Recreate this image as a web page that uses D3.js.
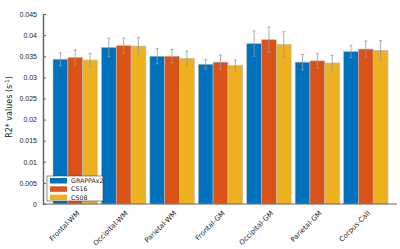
<!DOCTYPE html>
<html>
<head>
<meta charset="utf-8">
<script src="https://cdn.jsdelivr.net/npm/d3@7"></script>
<style>
  body { margin: 0; background: #fff; }
  svg { font-family: "DejaVu Sans", sans-serif; }
</style>
</head>
<body>
<svg id="chart" width="400" height="249"></svg>
<script>
var regions = ["Frontal-WM", "Occipital-WM", "Parietal-WM", "Frontal-GM", "Occipital-GM", "Parietal-GM", "Corpus-Call"];
var series = ["GRAPPAx2", "CS16", "CS08"];
var colors = ["#0072BD", "#D95319", "#EDB120"];

var grappa = [0.0343, 0.0371, 0.0350, 0.0331, 0.0380, 0.0336, 0.0361];
var cs16 = [0.0347, 0.0375, 0.0350, 0.0336, 0.0389, 0.0339, 0.0367];
var cs08 = [0.0341, 0.0374, 0.0345, 0.0328, 0.0378, 0.0334, 0.0364];

var grappaErr = [0.0015, 0.0022, 0.0018, 0.0011, 0.0030, 0.0018, 0.0014];
var cs16Err = [0.0018, 0.0018, 0.0016, 0.0017, 0.0030, 0.0017, 0.0019];
var cs08Err = [0.0016, 0.0020, 0.0017, 0.0013, 0.0030, 0.0018, 0.0023];

var yTicks = [0, 0.005, 0.01, 0.015, 0.02, 0.025, 0.03, 0.035, 0.04, 0.045];

var values = [grappa, cs16, cs08];
var errs = [grappaErr, cs16Err, cs08Err];

var svg = d3.select("#chart");

var mLeft = 43, mRight = 397, mTop = 14, mBottom = 204;

var y = d3.scaleLinear().domain([0, 0.045]).range([mBottom, mTop]);

var x = d3.scaleBand()
    .domain(regions)
    .range([51, 390])
    .padding(0);

var xs = d3.scaleBand()
    .domain(series)
    .range([2, x.bandwidth() - 2])
    .padding(0);

// bars
var rows = [];
regions.forEach(function (r, i) {
    series.forEach(function (s, j) {
        rows.push({region: r, series: s, value: values[j][i], err: errs[j][i], color: colors[j]});
    });
});

svg.append("g")
    .selectAll("rect")
    .data(rows)
    .enter()
    .append("rect")
    .attr("x", d => x(d.region) + xs(d.series))
    .attr("y", d => y(d.value))
    .attr("width", xs.bandwidth())
    .attr("height", d => y(0) - y(d.value))
    .attr("fill", d => d.color)
    .attr("stroke", "#bbbbbb")
    .attr("stroke-width", 0.6);

// error bars
var eb = svg.append("g")
    .attr("stroke", "#999999")
    .attr("stroke-width", 0.8);

rows.forEach(function (d) {
    var cx = x(d.region) + xs(d.series) + xs.bandwidth() / 2;
    eb.append("line")
        .attr("x1", cx).attr("x2", cx)
        .attr("y1", y(d.value + d.err)).attr("y2", y(d.value - d.err));
    [d.value + d.err, d.value - d.err].forEach(function (v) {
        eb.append("line")
            .attr("x1", cx - 1.5).attr("x2", cx + 1.5)
            .attr("y1", y(v)).attr("y2", y(v));
    });
});

// y axis
var yAxis = d3.axisLeft(y)
    .tickValues(yTicks)
    .tickSizeInner(-3)
    .tickSizeOuter(0)
    .tickPadding(6)
    .tickFormat(d => d === 0 ? "0" : String(+d.toFixed(3)));

var gy = svg.append("g")
    .attr("transform", "translate(" + mLeft + ",0)")
    .call(yAxis);
gy.select(".domain").attr("stroke", "#666").attr("stroke-width", 1.5);
gy.selectAll(".tick line").attr("stroke", "#666");
gy.selectAll("text").attr("font-size", 7).attr("fill", "#222");

// x axis line
svg.append("line")
    .attr("x1", mLeft).attr("x2", mRight)
    .attr("y1", mBottom).attr("y2", mBottom)
    .attr("stroke", "#666").attr("stroke-width", 1);

// x labels, rotated 45 degrees
svg.append("g")
    .selectAll("g")
    .data(regions)
    .enter()
    .append("g")
    .attr("transform", d => "translate(" + (x(d) + x.bandwidth() / 2 + 3) + "," + (mBottom + 8) + ") rotate(-45)")
    .append("text")
    .attr("text-anchor", "end")
    .attr("dy", "0.35em")
    .attr("font-size", 7)
    .attr("fill", "#222")
    .text(d => d);

// y label
svg.append("text")
    .attr("transform", "translate(12,107) rotate(-90)")
    .attr("text-anchor", "middle")
    .attr("font-size", 8)
    .attr("fill", "#222")
    .html("R2* values (s<tspan dy='-3' font-size='5.5'>-1</tspan><tspan dy='3'>)</tspan>");

// legend
var lg = svg.append("g").attr("transform", "translate(47,176)");
lg.append("rect")
    .attr("width", 56).attr("height", 25)
    .attr("fill", "#fff").attr("stroke", "#444").attr("stroke-width", 0.6);
series.forEach(function (s, j) {
    lg.append("rect")
        .attr("x", 3).attr("y", 2 + j * 8.3)
        .attr("width", 17).attr("height", 5.5)
        .attr("fill", colors[j]);
    lg.append("text")
        .attr("x", 24).attr("y", 4.8 + j * 8.3)
        .attr("dy", "0.35em")
        .attr("font-size", 6.3)
        .attr("fill", "#222")
        .text(s);
});
</script>
</body>
</html>
